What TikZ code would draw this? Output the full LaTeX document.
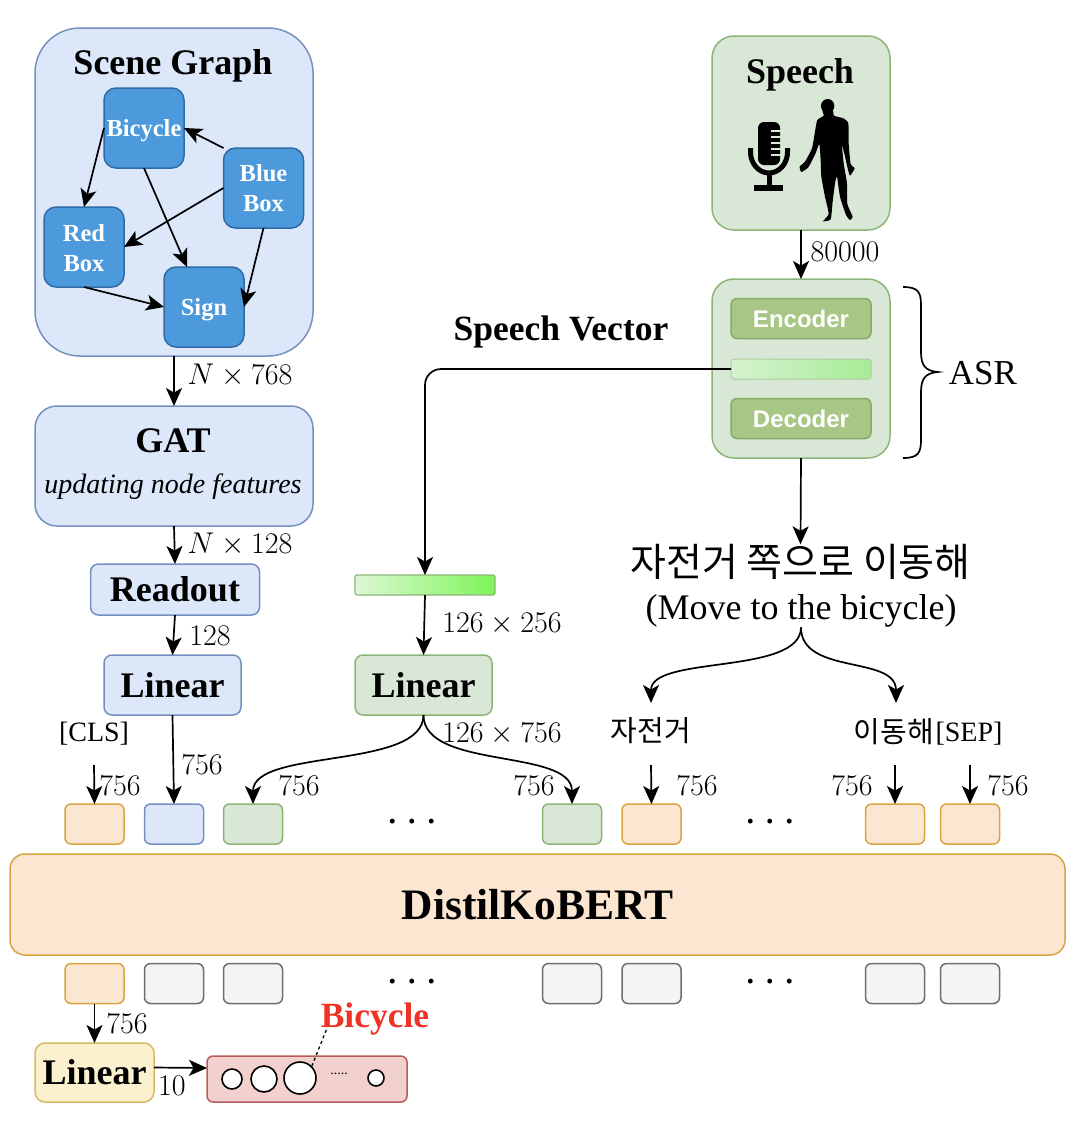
\RequirePackage{fix-cm}
\documentclass[tikz,border=0pt]{standalone}
\usepackage[no-math]{fontspec}
\setmainfont{Liberation Serif}
\setsansfont{Liberation Sans}
\newfontfamily\krfont{Noto Sans CJK KR}
\usetikzlibrary{arrows.meta}
\newcommand{\fz}[1]{\fontsize{#1}{#1}\selectfont}
\newcommand{\tdots}{·\hspace{9.5pt}·\hspace{9.5pt}·}
\definecolor{bluefill}{HTML}{DCE7F9}
\definecolor{blueline}{HTML}{7590BF}
\definecolor{greenfill}{HTML}{D8E7D6}
\definecolor{greenline}{HTML}{8DB578}
\definecolor{orfill}{HTML}{FBE6D1}
\definecolor{orline}{HTML}{D9A441}
\definecolor{grayfill}{HTML}{F4F4F4}
\definecolor{grayline}{HTML}{6E6E6E}
\definecolor{yelfill}{HTML}{FCF1CF}
\definecolor{yelline}{HTML}{D8BA62}
\definecolor{redfill}{HTML}{F2D0CE}
\definecolor{redline}{HTML}{B85C58}
\definecolor{gnode}{HTML}{4C9ADB}
\definecolor{gnodeline}{HTML}{2F6CA6}
\definecolor{encfill}{HTML}{A8C787}
\definecolor{encline}{HTML}{86AA68}
\definecolor{redtext}{HTML}{EE3324}
\definecolor{barl}{HTML}{D6F2CF}
\definecolor{barr}{HTML}{A6EC96}
\definecolor{vecl}{HTML}{DDF7D5}
\definecolor{vecr}{HTML}{7DF55A}
\tikzset{
  bx/.style={draw,rounded corners=10pt,inner sep=0pt,outer sep=0pt,line width=1.5pt,align=center},
  bluebx/.style={bx,fill=bluefill,draw=blueline},
  greenbx/.style={bx,fill=greenfill,draw=greenline},
  orbx/.style={bx,fill=orfill,draw=orline},
  graybx/.style={bx,fill=grayfill,draw=grayline},
  small/.style={minimum width=59pt,minimum height=40pt,rounded corners=6pt},
  gn/.style={bx,fill=gnode,draw=gnodeline,minimum width=80pt,minimum height=80pt,rounded corners=12pt,text=white,font=\bfseries\fontsize{24.5}{30}\selectfont},
  enc/.style={bx,fill=encfill,draw=encline,minimum width=140pt,minimum height=40pt,rounded corners=6pt,text=white,font=\sffamily\bfseries\fz{24}},
  txt/.style={inner sep=0pt,outer sep=0pt,align=center},
  num/.style={txt,font=\fz{30}},
  arr/.style={-{Stealth[length=18pt,width=16pt,inset=4.5pt]},line width=1.7pt,black},
  ring/.style={circle,draw=black,fill=white,line width=1.6pt,inner sep=0pt},
  dotsrow/.style={txt,font=\bfseries\fz{30}},
}
\begin{document}
\begin{tikzpicture}[x=1pt,y=-1pt]
\useasboundingbox (0,0) rectangle (1074,1128);
% Scene graph
\node[bluebx,minimum width=278pt,minimum height=328pt,rounded corners=45pt] (scene) at (174,192) {};
\node[txt,font=\bfseries\fz{36}] (scenet) at (173,66) {Scene Graph};
\node[gn] (bic) at (144,128) {\rule{0pt}{22pt}Bicycle};
\node[gn] (blue) at (263.5,188) {Blue\\Box};
\node[gn] (red) at (84,247) {\rule{0pt}{20pt}Red\\Box};
\node[gn] (sign) at (204,307) {\rule{0pt}{22pt}Sign};
\draw[arr] (bic.west) -- (red.north);
\draw[arr] (bic.south) -- ([xshift=-17pt]sign.north);
\draw[arr] (blue.north west) -- (bic.east);
\draw[arr] (blue.west) -- (red.east);
\draw[arr] (blue.south) -- (sign.east);
\draw[arr] (red.south) -- (sign.west);
% left column
\node[bluebx,minimum width=278pt,minimum height=120pt,rounded corners=22pt] (gat) at (174,466) {};
\node[txt,font=\bfseries\fz{36}] (gatt) at (173,441) {GAT};
\node[txt,font=\itshape\fz{28}] (gats) at (173,487) {updating node features};
\node[bluebx,minimum width=169pt,minimum height=51pt,rounded corners=8pt,font=\bfseries\fz{36}] (read) at (175,589.5) {Readout};
\node[bluebx,minimum width=137pt,minimum height=60pt,rounded corners=8pt,font=\bfseries\fz{36}] (lin1) at (172.5,685) {Linear};
\draw[arr] (scene.south) -- (gat.north);
\draw[arr] (gat.south) -- (read.north);
\draw[arr] (read.south) -- (lin1.north);
\node[num] (n1) at (240,375) {$N\times 768$};
\node[num] (n2) at (240,544) {$N\times 128$};
\node[num] (n3) at (210,636) {$128$};
% speech
\node[greenbx,minimum width=178pt,minimum height=194pt,rounded corners=22pt] (speech) at (801,133) {};
\node[txt,font=\bfseries\fz{36}] (speecht) at (800,75) {Speech};
% microphone
\fill[black,rounded corners=6pt] (758,122) rectangle (780,165);
\foreach \yy in {130,136,142,148,154}{\fill[greenfill] (771,\yy) rectangle (781,\yy+2);}
\draw[line width=5pt,black] (750.5,148) -- (750.5,152) arc[start angle=180,end angle=360,x radius=18.5pt,y radius=21pt] -- (787.5,148);
\draw[line width=5pt,black] (769,173) -- (769,186);
\fill[black] (754,185) rectangle (783,191);
% human silhouette
\begin{scope}[shift={(700,20)},x=0.3333pt,y=-0.3333pt]
\fill[black] (383,258) ellipse[x radius=6.7pt,y radius=7pt];
\fill[black] plot[smooth cycle,tension=.3] coordinates {(368,270)(371,287)(352,300)(345,335)(336,385)(315,425)(299,440)(304,456)(325,442)(346,402)(358,372)(362,420)(364,470)(375,530)(386,582)(369,604)(392,598)(398,545)(405,490)(411,470)(420,530)(438,585)(450,600)(458,590)(442,552)(441,490)(431,430)(426,375)(434,405)(443,445)(450,467)(464,445)(452,432)(446,370)(445,310)(430,295)(402,287)(398,270)};
\end{scope}
% ASR
\node[greenbx,minimum width=178pt,minimum height=179pt,rounded corners=22pt] (asr) at (801,368.5) {};
\node[enc] (encd) at (801,318.5) {Encoder};
\node[enc,draw=greenline!70,line width=1pt,left color=barl,right color=barr,minimum height=20pt,rounded corners=3pt] (bar) at (801,369) {};
\node[enc] (decd) at (801,418.5) {Decoder};
\draw[arr] (speech.south) -- (asr.north);
\node[num] (n6) at (845,252) {$80000$};
\draw[line width=1.7pt,black] (903,287) .. controls (918,287) and (921,292) .. (921,305) -- (921,352) .. controls (921,365) and (925,371) .. (938,372) .. controls (925,373) and (921,379) .. (921,392) -- (921,440) .. controls (921,453) and (918,458) .. (903,458);
\node[txt,font=\fz{35}] (asrt) at (983,373) {ASR};
\node[txt,font=\bfseries\fz{35.5}] (svt) at (561,332) {Speech Vector};
% vector and linear
\node[bx,draw=greenline,line width=1.2pt,left color=vecl,right color=vecr,minimum width=140pt,minimum height=20pt,rounded corners=2pt] (vec) at (425,585) {};
\draw[arr,rounded corners=16pt] (bar.west) -| (vec.north);
\node[greenbx,minimum width=137pt,minimum height=60pt,rounded corners=8pt,font=\bfseries\fz{36}] (lin2) at (423.5,685) {Linear};
\draw[arr] (vec.south) -- (lin2.north);
\node[num] (n4) at (502,624) {$126\times 256$};
\node[num] (n5) at (502,734) {$126\times 756$};
% sentence
\node[txt,font=\krfont\fz{39}] (sent) at (800.5,562) {자전거 쪽으로 이동해};
\node[txt,font=\fz{36}] (sente) at (801,611) {(Move to the bicycle)};
\draw[arr] (asr.south) -- (sent.north);
\node[txt,font=\krfont\fz{29}] (w1) at (651,731) {자전거};
\node[txt,font=\krfont\fz{29}] (w2) at (894,732) {이동해};
\node[txt,font=\fz{28}] (sep) at (969,734) {[SEP]};
\node[txt,font=\fz{28}] (cls) at (94,734) {[CLS]};
\draw[arr] (sente.south) .. controls +(0,48) and (651,655) .. (651,703);
\draw[arr] (sente.south) .. controls +(0,48) and (896,655) .. (896,703);
% token row
\node[orbx,small] (t1) at (94.5,824) {};
\node[bluebx,small] (t2) at (174,824) {};
\node[greenbx,small] (t3) at (253,824) {};
\node[greenbx,small] (t4) at (572,824) {};
\node[orbx,small] (t5) at (651.5,824) {};
\node[orbx,small] (t6) at (895,824) {};
\node[orbx,small] (t7) at (970,824) {};
\coordinate (c1) at (94,765);
\coordinate (c5) at (651,765);
\coordinate (c6) at (895,765);
\coordinate (c7) at (970,765);
\draw[arr] (c1) -- (t1.north);
\draw[arr] (c5) -- (t5.north);
\draw[arr] (c6) -- (t6.north);
\draw[arr] (c7) -- (t7.north);
\draw[arr] (lin1.south) -- (t2.north);
\draw[arr] (lin2.south) .. controls +(0,55) and (253,748) .. (t3.north);
\draw[arr] (lin2.south) .. controls +(0,55) and (572,748) .. (t4.north);
\node[num] at (120,786) {$756$};
\node[num] at (202,765) {$756$};
\node[num] at (299,786) {$756$};
\node[num] at (534,786) {$756$};
\node[num] at (697,786) {$756$};
\node[num] at (852,786) {$756$};
\node[num] at (1008,786) {$756$};
\node[dotsrow] (d1) at (412,825) {\tdots};
\node[dotsrow] (d2) at (770,825) {\tdots};
% BERT
\node[orbx,minimum width=1055pt,minimum height=101pt,rounded corners=15pt,font=\bfseries\fz{43.5}] (bert) at (537.5,904.5) {DistilKoBERT};
% bottom row
\node[orbx,small] (b1) at (94.5,983.5) {};
\node[graybx,small] (b2) at (174,983.5) {};
\node[graybx,small] (b3) at (253,983.5) {};
\node[graybx,small] (b4) at (572,983.5) {};
\node[graybx,small] (b5) at (651.5,983.5) {};
\node[graybx,small] (b6) at (895,983.5) {};
\node[graybx,small] (b7) at (970,983.5) {};
\node[dotsrow] (d3) at (412,985) {\tdots};
\node[dotsrow] (d4) at (770,985) {\tdots};
% output
\node[bx,fill=yelfill,draw=yelline,minimum width=119pt,minimum height=59pt,rounded corners=10pt,font=\bfseries\fz{36}] (lin3) at (94.5,1072.5) {Linear};
\node[bx,fill=redfill,draw=redline,minimum width=200pt,minimum height=46pt,rounded corners=6pt] (out) at (307,1079) {};
\draw[arr] (b1.south) -- (lin3.north);
\node[num] at (127,1024) {$756$};
\draw[arr] ([yshift=5pt]lin3.east) -- ([yshift=11pt]out.west);
\node[num] at (172,1086) {$10$};
\node[ring,minimum size=20pt] (r1) at (232,1079) {};
\node[ring,minimum size=26pt] (r2) at (264,1079) {};
\node[ring,minimum size=32pt] (r3) at (300,1078) {};
\node[ring,minimum size=16pt] (r4) at (376,1078) {};
\node[txt,font=\fz{14}] (rd) at (339,1074) {.....};
\node[txt,font=\bfseries\fz{35.5},text=redtext] (bl) at (375,1019) {Bicycle};
\coordinate (blc) at (327,1028);
\draw[dashed,line width=1.3pt] (r3.north east) -- (blc);
\end{tikzpicture}
\end{document}
